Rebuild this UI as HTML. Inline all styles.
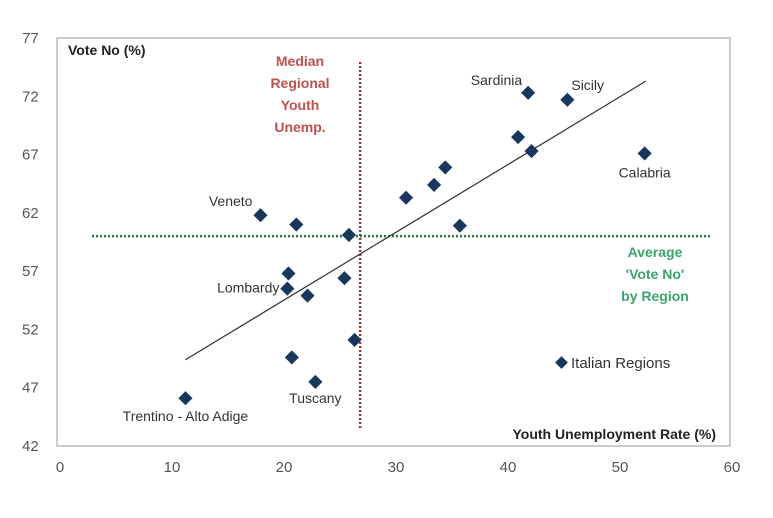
<!DOCTYPE html>
<html><head><meta charset="utf-8"><style>
body{margin:0;background:#fff;}
svg text{font-family:"Liberation Sans",sans-serif;}
</style></head><body>
<svg id="chart" width="773" height="513" xmlns="http://www.w3.org/2000/svg">
<rect width="773" height="513" fill="#fff"/>
<rect x="57" y="38" width="673" height="408" fill="none" stroke="#bbb" stroke-width="1.5"/>
<g id="ticks"></g>
<text x="68" y="55" font-size="14" font-weight="bold" fill="#222">Vote No (%)</text>
<text x="716" y="439" font-size="14" font-weight="bold" fill="#222" text-anchor="end">Youth Unemployment Rate (%)</text>
<g id="refs"></g>
<g id="marks"></g>
<g font-size="14" font-weight="bold" fill="#c0504d" text-anchor="middle">
<text x="300" y="66">Median</text><text x="300" y="88">Regional</text><text x="300" y="110">Youth</text><text x="300" y="132">Unemp.</text></g>
<g font-size="14" font-weight="bold" fill="#3aa56a" text-anchor="middle">
<text x="655" y="257">Average</text><text x="655" y="279">'Vote No'</text><text x="655" y="301">by Region</text></g>
<g>
<rect x="557" y="358" width="9" height="9" transform="rotate(45 561.5 362.5)" fill="#17375e"/>
<text x="571" y="368" font-size="15" fill="#333">Italian Regions</text></g>
</svg>
<script>
const xTicks=[0,10,20,30,40,50,60];
const yTicks=[42,47,52,57,62,67,72,77];
const regionNames=["Veneto","","","","Lombardy","","","","","Tuscany","Trentino - Alto Adige","","","","","","Sardinia","","Sicily","Calabria"];
const youthUnemp=[17.9,21.1,25.8,20.4,20.3,22.1,25.4,26.3,20.7,22.8,11.2,30.9,33.4,34.4,35.7,40.9,41.8,42.1,45.3,52.2];
const voteNo=[61.8,61.0,60.1,56.8,55.5,54.9,56.4,51.1,49.6,47.5,46.1,63.3,64.4,65.9,60.9,68.5,72.3,67.3,71.7,67.1];
const trendX=[11.2,52.3];
const trendY=[49.4,73.3];
const medianX=26.8;
const averageY=60.0;
const labelOffsets={"Veneto":[-8,-9,"end"],"Lombardy":[-8,4,"end"],"Tuscany":[0,21,"middle"],"Trentino - Alto Adige":[0,23,"middle"],"Sardinia":[-6,-8,"end"],"Sicily":[4,-10,"start"],"Calabria":[0,24,"middle"]};
const NS="http://www.w3.org/2000/svg";
const X=v=>60+v*11.2;
const Y=v=>446-(v-42)*(408/35);
function mk(tag,attrs,parent){const e=document.createElementNS(NS,tag);for(const k in attrs)e.setAttribute(k,attrs[k]);document.getElementById(parent).appendChild(e);return e;}
xTicks.forEach(t=>{const e=mk("text",{x:X(t),y:472,"font-size":15,fill:"#555","text-anchor":"middle"},"ticks");e.textContent=t;

});
yTicks.forEach(t=>{const e=mk("text",{x:22,y:Y(t)+5,"font-size":15,fill:"#555"},"ticks");e.textContent=t;

});
let m=mk("line",{x1:X(medianX),x2:X(medianX),y1:62,y2:428,stroke:"#a0323a","stroke-width":2.5,"stroke-dasharray":"2 2"},"refs");


let a=mk("line",{x1:92,x2:712,y1:Y(averageY),y2:Y(averageY),stroke:"#1e7a3e","stroke-width":2.5,"stroke-dasharray":"2 2"},"refs");


let tl=mk("line",{x1:X(trendX[0]),y1:Y(trendY[0]),x2:X(trendX[1]),y2:Y(trendY[1]),stroke:"#333","stroke-width":1.2},"refs");


youthUnemp.forEach((xv,i)=>{const cx=X(xv),cy=Y(voteNo[i]);
const r=mk("rect",{x:cx-5,y:cy-5,width:10,height:10,fill:"#17375e",transform:`rotate(45 ${cx} ${cy})`},"marks");


const n=regionNames[i];if(n){const o=labelOffsets[n]||[0,-10,"middle"];
const t=mk("text",{x:cx+o[0],y:cy+o[1],"font-size":14,fill:"#333","text-anchor":o[2]},"marks");t.textContent=n;

}});
</script>
</body></html>
